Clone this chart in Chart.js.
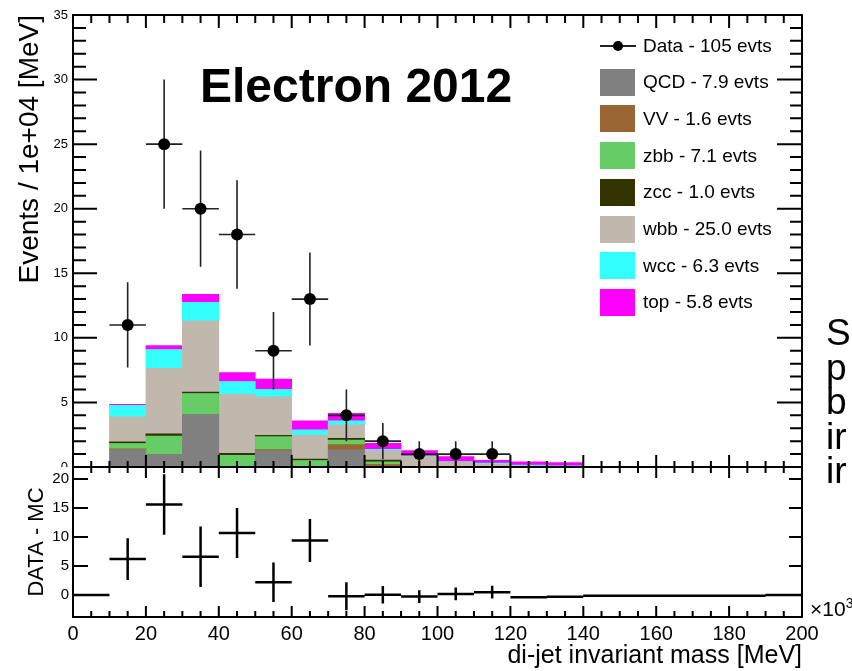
<!DOCTYPE html>
<html>
<head>
<meta charset="utf-8">
<title>Electron 2012 - di-jet invariant mass</title>
<script src="https://cdn.jsdelivr.net/npm/chart.js@4.4.1/dist/chart.umd.min.js"></script>
<style>
  body { margin: 0; background: #fff; font-family: "Liberation Sans", Arial, sans-serif; color: #000; }
  #wrap { position: relative; width: 852px; height: 671px; overflow: hidden; }
  canvas { position: absolute; left: 0; }
  #mainChart { top: 0; }
  #ratioChart { top: 467px; background: #fff; }
  #label { position: absolute; left: 200px; top: 62px; font: bold 48px "Liberation Sans", Arial, sans-serif; line-height: 48px; white-space: nowrap; }
  #legend { position: absolute; left: 600px; top: 32px; font-size: 19px; }
  .lg-row { position: absolute; left: 0; height: 27px; display: flex; align-items: center; white-space: nowrap; }
  .lg-box { width: 35px; height: 27px; margin-right: 8px; }
  .lg-mark { position: relative; width: 36px; height: 27px; margin-right: 7px; }
  .lg-mark::before { content: ''; position: absolute; left: 0; right: 0; top: 13px; height: 1.5px; background: #222; }
  .lg-mark::after { content: ''; position: absolute; left: 13px; top: 9px; width: 10px; height: 10px; border-radius: 50%; background: #000; }
  #sideText { position: absolute; left: 826px; top: 316px; font-size: 37px; line-height: 34.5px; white-space: pre; }
  #exp { position: absolute; left: 810px; top: 598px; font-size: 21px; line-height: 21px; white-space: nowrap; }
  #exp sup { font-size: 14px; vertical-align: 8px; line-height: 0; }
</style>
</head>
<body>
<div id="wrap">
  <canvas id="mainChart" width="852" height="480"></canvas>
  <canvas id="ratioChart" width="852" height="204"></canvas>
  <div id="label">Electron 2012</div>
  <div id="legend"></div>
  <div id="sideText">S
p
b
ir
ir</div>
  <div id="exp">×10<sup>3</sup></div>
</div>
<script>
// --- Data (x in units of 10^3 MeV, bins of width 10) ---
const binCenters = [5, 15, 25, 35, 45, 55, 65, 75, 85, 95, 105, 115, 125, 135, 145, 155, 165, 175, 185, 195];
const binHalf = 5;

// stacked MC backgrounds, bottom to top
const qcdVals = [0, 1.35, 0.96, 4.08, 0, 1.25, 0, 1.32, 0, 0, 0, 0, 0, 0, 0, 0, 0, 0, 0, 0];
const vvVals  = [0, 0.05, 0, 0, 0.05, 0.10, 0.05, 0.41, 0.20, 0, 0, 0, 0, 0, 0, 0, 0, 0, 0, 0];
const zbbVals = [0, 0.42, 1.44, 1.61, 0.85, 1.00, 0.45, 0.36, 0.21, 0.05, 0, 0, 0, 0, 0, 0, 0, 0, 0, 0];
const zccVals = [0, 0.12, 0.16, 0.12, 0.16, 0.10, 0.12, 0.13, 0.13, 0, 0, 0, 0, 0, 0, 0, 0, 0, 0, 0];
const wbbVals = [0, 1.94, 5.09, 5.51, 4.57, 2.98, 1.86, 1.04, 0.73, 0.75, 0.39, 0.20, 0.10, 0.05, 0, 0, 0, 0, 0, 0];
const wccVals = [0, 0.90, 1.45, 1.44, 0.99, 0.59, 0.39, 0.31, 0.10, 0.05, 0.03, 0.11, 0.05, 0.05, 0, 0, 0, 0, 0, 0];
const topVals = [0, 0.08, 0.31, 0.62, 0.69, 0.78, 0.70, 0.59, 0.46, 0.42, 0.38, 0.21, 0.26, 0.24, 0, 0, 0, 0, 0, 0];

const seriesNames  = ['QCD', 'VV', 'zbb', 'zcc', 'wbb', 'wcc', 'top'];
const seriesTotals = [7.9, 1.6, 7.1, 1.0, 25.0, 6.3, 5.8];
const seriesColors = ['#808080', '#996633', '#66cc66', '#333300', '#c0b8ad', '#33ffff', '#ff00ff'];
const seriesValues = [qcdVals, vvVals, zbbVals, zccVals, wbbVals, wccVals, topVals];

// data points
const dataX    = [15, 25, 35, 45, 55, 65, 75, 85, 95, 105, 115];
const dataY    = [11, 25, 20, 18, 9, 13, 4, 2, 1, 1, 1];
const dataErr  = [3.3, 5.0, 4.5, 4.2, 3.0, 3.6, 2.0, 1.4, 1.0, 1.0, 1.0];
const dataTotal = 105;

// DATA - MC panel
const diffVals = [0, 6.2, 15.6, 6.6, 10.7, 2.2, 9.4, -0.2, 0.05, -0.25, 0.2, 0.5, -0.35, -0.3, -0.1, -0.1, -0.1, -0.1, -0.1, 0];
const diffErrs = [0, 3.6, 5.2, 5.2, 4.3, 3.4, 3.7, 2.4, 1.5, 1.1, 1.1, 1.1, 0, 0, 0, 0, 0, 0, 0, 0];

// axis ticks
const xTickLabels = [0, 20, 40, 60, 80, 100, 120, 140, 160, 180, 200];
const ratioYTicks = [0, 5, 10, 15, 20];

const FONT = '"Liberation Sans", Arial, sans-serif';
Chart.defaults.font.family = FONT;
Chart.defaults.color = '#000';

// --- Plugins ---
// error bars: horizontal bin width + vertical uncertainty
const errorBars = {
  id: 'errorBars',
  beforeDatasetDraw(chart, args) {
    const ds = chart.data.datasets[args.index];
    if (!ds.errors) return;
    const { ctx, chartArea: a, scales: { x, y } } = chart;
    ctx.save();
    ctx.beginPath();
    ctx.rect(a.left, a.top, a.right - a.left, a.bottom - a.top);
    ctx.clip();
    ctx.strokeStyle = ds.errColor;
    ctx.lineWidth = ds.errWidth;
    ctx.beginPath();
    ds.data.forEach((p, i) => {
      const py = y.getPixelForValue(p.y);
      ctx.moveTo(x.getPixelForValue(p.x - binHalf), py);
      ctx.lineTo(x.getPixelForValue(p.x + binHalf), py);
      const e = ds.errors[i];
      if (e > 0) {
        const px = x.getPixelForValue(p.x);
        ctx.moveTo(px, y.getPixelForValue(p.y + e));
        ctx.lineTo(px, y.getPixelForValue(p.y - e));
      }
    });
    ctx.stroke();
    ctx.restore();
  }
};

// ROOT-like frame with inward ticks on every side
const rootAxes = {
  id: 'rootAxes',
  afterDatasetsDraw(chart, args, o) {
    const { ctx, chartArea: a, scales: { x, y } } = chart;
    const isMajor = (v, step) => Math.abs(v / step - Math.round(v / step)) < 1e-6;
    ctx.save();
    ctx.strokeStyle = '#000';
    ctx.lineWidth = 2;
    ctx.beginPath();
    for (let v = Math.ceil(x.min / o.xMinor) * o.xMinor; v <= x.max + 1e-9; v += o.xMinor) {
      const px = x.getPixelForValue(v);
      const m = isMajor(v, o.xMajor) ? 0 : 1;
      if (o.top[m]) { ctx.moveTo(px, a.top); ctx.lineTo(px, a.top + o.top[m]); }
      if (o.bottom[m]) { ctx.moveTo(px, a.bottom); ctx.lineTo(px, a.bottom - o.bottom[m]); }
    }
    for (let v = Math.ceil(y.min / o.yMinor) * o.yMinor; v <= y.max + 1e-9; v += o.yMinor) {
      const py = y.getPixelForValue(v);
      const m = isMajor(v, o.yMajor) ? 0 : 1;
      if (o.left[m]) { ctx.moveTo(a.left, py); ctx.lineTo(a.left + o.left[m], py); }
      if (o.right[m]) { ctx.moveTo(a.right, py); ctx.lineTo(a.right - o.right[m], py); }
    }
    ctx.stroke();
    ctx.strokeRect(a.left, a.top, a.right - a.left, a.bottom - a.top);
    ctx.restore();
  }
};

// --- Main panel ---
const barSets = seriesNames.map((name, k) => ({
  type: 'bar',
  label: name,
  data: binCenters.map((c, i) => ({ x: c, y: seriesValues[k][i] })),
  backgroundColor: seriesColors[k],
  borderWidth: 0,
  barPercentage: 1,
  categoryPercentage: 1,
  stack: 'mc'
}));

const dataSet = {
  type: 'scatter',
  label: 'Data',
  data: dataX.map((c, i) => ({ x: c, y: dataY[i] })),
  errors: dataErr,
  errColor: '#222',
  errWidth: 1.6,
  pointRadius: 6,
  pointBackgroundColor: '#000',
  pointBorderWidth: 0,
  stack: 'data',
  order: -1
};

new Chart(document.getElementById('mainChart'), {
  type: 'bar',
  data: { datasets: [...barSets, dataSet] },
  options: {
    responsive: false,
    animation: false,
    events: [],
    layout: { padding: { left: 0, right: 50, top: 15, bottom: 13 } },
    plugins: {
      legend: { display: false },
      tooltip: { enabled: false },
      rootAxes: { xMajor: 20, xMinor: 5, yMajor: 5, yMinor: 1, top: [13, 8], bottom: [12, 6], left: [24, 13], right: [25, 12] }
    },
    scales: {
      x: {
        type: 'linear', min: 0, max: 200, stacked: true, display: false, offset: false,
        afterBuildTicks: s => { s.ticks = xTickLabels.map(v => ({ value: v })); }
      },
      y: {
        min: 0, max: 35, stacked: true,
        grid: { display: false, drawTicks: false },
        border: { display: false },
        ticks: { stepSize: 5, padding: 5, font: { size: 13 } },
        title: { display: true, text: 'Events / 1e+04 [MeV]', align: 'end', font: { size: 28 }, padding: { top: 13, bottom: 0 } },
        afterFit: s => { s.width = 73; }
      }
    }
  },
  plugins: [errorBars, rootAxes]
});

// --- DATA - MC panel ---
new Chart(document.getElementById('ratioChart'), {
  type: 'scatter',
  data: {
    datasets: [{
      label: 'DATA - MC',
      data: binCenters.map((c, i) => ({ x: c, y: diffVals[i] })),
      errors: diffErrs,
      errColor: '#000',
      errWidth: 2.5,
      pointRadius: 0
    }]
  },
  options: {
    responsive: false,
    animation: false,
    events: [],
    layout: { padding: { left: 0, right: 50, top: 0, bottom: 0 } },
    plugins: {
      legend: { display: false },
      tooltip: { enabled: false },
      rootAxes: { xMajor: 20, xMinor: 5, yMajor: 5, yMinor: 5, top: [11, 6], bottom: [11, 6], left: [15, 0], right: [13, 0] }
    },
    scales: {
      x: {
        type: 'linear', min: 0, max: 200,
        grid: { display: false, drawTicks: false },
        border: { display: false },
        ticks: { padding: 5, font: { size: 20 }, maxRotation: 0, autoSkip: false },
        afterBuildTicks: s => { s.ticks = xTickLabels.map(v => ({ value: v })); },
        title: { display: true, text: 'di-jet invariant mass [MeV]', align: 'end', font: { size: 25 }, padding: { top: 0, bottom: 0 } },
        afterFit: s => { s.height = 54; }
      },
      y: {
        min: -3.77, max: 22.05,
        grid: { display: false, drawTicks: false },
        border: { display: false },
        ticks: { padding: 4, font: { size: 15 } },
        afterBuildTicks: s => { s.ticks = ratioYTicks.map(v => ({ value: v })); },
        title: { display: true, text: 'DATA - MC', font: { size: 22 }, padding: { top: 24, bottom: 0 } },
        afterFit: s => { s.width = 73; s.paddingTop = 0; s.paddingBottom = 0; }
      }
    }
  },
  plugins: [errorBars, rootAxes]
});

// --- Legend ---
const legend = document.getElementById('legend');
const rowStep = 36.7;
function addRow(i, swatch, text) {
  const row = document.createElement('div');
  row.className = 'lg-row';
  row.style.top = (i * rowStep) + 'px';
  row.appendChild(swatch);
  const span = document.createElement('span');
  span.textContent = text;
  row.appendChild(span);
  legend.appendChild(row);
}
const mark = document.createElement('div');
mark.className = 'lg-mark';
addRow(0, mark, 'Data - ' + dataTotal + ' evts');
seriesNames.forEach((name, k) => {
  const box = document.createElement('div');
  box.className = 'lg-box';
  box.style.background = seriesColors[k];
  addRow(k + 1, box, name + ' - ' + seriesTotals[k].toFixed(1) + ' evts');
});
</script>
</body>
</html>
